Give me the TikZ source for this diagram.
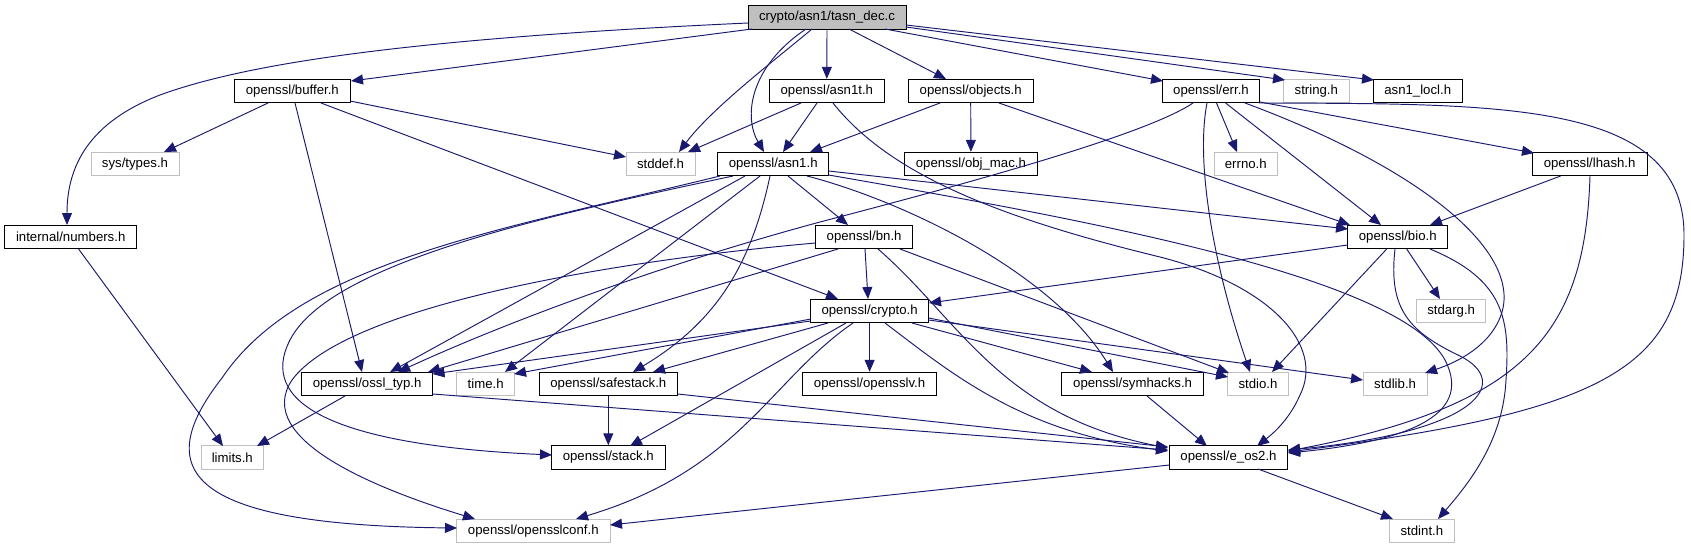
\documentclass[tikz,border=0pt]{standalone}
\usepackage{fontspec}
\setmainfont{Liberation Sans}
\usetikzlibrary{arrows.meta,calc}
\definecolor{navy}{RGB}{25,25,112}
\definecolor{gborder}{RGB}{191,191,191}
\definecolor{gfill}{RGB}{191,191,191}
\tikzset{
  box/.style={draw=black, line width=0.9pt, minimum height=23.5pt, inner sep=0pt, text=black, font=\fontsize{13.2}{15}\selectfont},
  gbox/.style={box, draw=gborder},
  e/.style={draw=navy, line width=0.95pt, -{Triangle[length=12pt,width=10pt]}},
}
\begin{document}
\begin{tikzpicture}[x=1pt,y=-1pt]
\useasboundingbox[fill=white] (0,0) rectangle (1691,549);
% nodes
\node[box,fill=gfill,minimum width=158pt] (tasn) at (827,17.5) {crypto/asn1/tasn\_dec.c};
\node[box,minimum width=132pt] (numbers) at (70.7,237) {internal/numbers.h};
\node[box,minimum width=115.4pt] (buffer) at (292.3,91) {openssl/buffer.h};
\node[gbox,minimum width=88pt] (systypes) at (135,164) {sys/types.h};
\node[box,minimum width=115pt] (asn1t) at (826.8,91) {openssl/asn1t.h};
\node[box,minimum width=125pt] (objects) at (970.7,91) {openssl/objects.h};
\node[box,minimum width=97.6pt] (err) at (1211,91) {openssl/err.h};
\node[gbox,minimum width=65.5pt] (string) at (1316.3,91) {string.h};
\node[box,minimum width=89.3pt] (asn1locl) at (1417.7,91) {asn1\_locl.h};
\node[gbox,minimum width=69pt] (stddef) at (660.5,164) {stddef.h};
\node[box,minimum width=110.7pt] (asn1) at (773.2,164) {openssl/asn1.h};
\node[box,minimum width=132.5pt] (objmac) at (970.9,164) {openssl/obj\_mac.h};
\node[gbox,minimum width=63.7pt] (errno) at (1245.8,164) {errno.h};
\node[box,minimum width=114.8pt] (lhash) at (1589.6,164) {openssl/lhash.h};
\node[box,minimum width=97.5pt] (bn) at (864.1,237) {openssl/bn.h};
\node[box,minimum width=100pt] (bio) at (1397.7,237) {openssl/bio.h};
\node[box,minimum width=118pt] (crypto) at (869.6,311) {openssl/crypto.h};
\node[gbox,minimum width=68.8pt] (stdarg) at (1451.2,311) {stdarg.h};
\node[box,minimum width=130.7pt] (ossltyp) at (367.1,384) {openssl/ossl\_typ.h};
\node[gbox,minimum width=58pt] (time) at (485.7,384) {time.h};
\node[box,minimum width=138.7pt] (safestack) at (608.3,384) {openssl/safestack.h};
\node[box,minimum width=133.5pt] (opensslv) at (869.6,384) {openssl/opensslv.h};
\node[box,minimum width=141.6pt] (symhacks) at (1132.6,384) {openssl/symhacks.h};
\node[gbox,minimum width=60.4pt] (stdio) at (1258,384) {stdio.h};
\node[gbox,minimum width=63.7pt] (stdlib) at (1395.1,384) {stdlib.h};
\node[gbox,minimum width=62.6pt] (limits) at (232.3,457.5) {limits.h};
\node[box,minimum width=113.3pt] (stack) at (608.3,457.5) {openssl/stack.h};
\node[box,minimum width=118pt] (eos2) at (1228.5,457.5) {openssl/e\_os2.h};
\node[gbox,minimum width=153.3pt] (conf) at (533.3,531) {openssl/opensslconf.h};
\node[gbox,minimum width=64.1pt] (stdint) at (1421.9,531) {stdint.h};

% tasn_dec.c
\draw[e] ($(tasn)+(-79,5.5)$) .. controls (420,38) and (250,62) .. (160,95) .. controls (90,122) and (67,165) .. ($(numbers)+(-3.7,-12)$);
\draw[e] ($(tasn)+(-75,11.5)$) -- ($(buffer)+(58.7,-10)$);
\draw[e] ($(tasn)+(-15,11.5)$) .. controls (775,60) and (712,108) .. ($(stddef)+(18.5,-12)$);
\draw[e] ($(tasn)+(-21,11.5)$) .. controls (748,68) and (744,118) .. ($(asn1)+(-9.2,-12)$);
\draw[e] (tasn.south) -- (asn1t.north);
\draw[e] ($(tasn)+(22,11.5)$) -- ($(objects)+(-24.7,-12)$);
\draw[e] ($(tasn)+(58,11.5)$) -- ($(err)+(-48,-10)$);
\draw[e] ($(tasn)+(79,9.5)$) -- ($(string)+(-31.3,-11)$);
\draw[e] ($(tasn)+(79,7.5)$) -- ($(asn1locl)+(-43.7,-11)$);

% buffer
\draw[e] ($(buffer)+(-24.3,12)$) -- ($(systypes)+(29,-12)$);
\draw[e] ($(buffer)+(2.7,12)$) -- ($(ossltyp)+(-5.1,-12)$);
\draw[e] ($(buffer)+(28.7,12)$) -- ($(crypto)+(-31.6,-12)$);
\draw[e] ($(buffer)+(57.7,10)$) -- ($(stddef)+(-34.5,-7)$);

% numbers
\draw[e] ($(numbers)+(7.9,12)$) -- ($(limits)+(-9.3,-11.5)$);

% asn1t
\draw[e] ($(asn1t)+(-25.8,12)$) -- ($(stddef)+(27.5,-12)$);
\draw[e] ($(asn1t)+(-9.8,12)$) -- ($(asn1)+(9.8,-12)$);
\draw[e] ($(asn1t)+(6.2,12)$) .. controls (890,175) and (1000,218) .. (1160,257) .. controls (1270,285) and (1325,345) .. (1300,395) .. controls (1290,418) and (1275,432) .. ($(eos2)+(28.5,-11.5)$);

% objects
\draw[e] ($(objects)+(-30.7,12)$) -- ($(asn1)+(36.8,-12)$);
\draw[e] (objects.south) -- (objmac.north);
\draw[e] ($(objects)+(28.3,12)$) -- ($(bio)+(-47.7,-12)$);

% err
\draw[e] ($(err)+(-18,12)$) .. controls (1150,132) and (1000,175) .. (820,222) .. controls (650,268) and (500,325) .. ($(ossltyp)+(31,-12)$);
\draw[e] ($(err)+(-4,12)$) .. controls (1195,165) and (1215,270) .. ($(stdio)+(-8,-12)$);
\draw[e] ($(err)+(5.5,12)$) -- ($(errno)+(-8.8,-12)$);
\draw[e] ($(err)+(14.6,12)$) -- ($(bio)+(-16.7,-12)$);
\draw[e] ($(err)+(34,12)$) .. controls (1420,168) and (1520,250) .. (1502,312) .. controls (1492,345) and (1458,362) .. ($(stdlib)+(29.9,-11)$);
\draw[e] ($(err)+(49,11)$) -- ($(lhash)+(-55.6,-11)$);
\draw[e] ($(err)+(48,12)$) .. controls (1500,104) and (1684,100) .. (1684,235) .. controls (1684,370) and (1600,412) .. ($(eos2)+(59.5,-5.5)$);

% lhash
\draw[e] ($(lhash)+(-29,12)$) -- ($(bio)+(32.3,-12)$);
\draw[e] ($(lhash)+(0.4,12)$) .. controls (1585,330) and (1530,405) .. ($(eos2)+(59.5,-6.5)$);

% bio
\draw[e] ($(bio)+(-50,8)$) -- ($(crypto)+(59.4,-8)$);
\draw[e] ($(bio)+(-11,12)$) -- ($(stdio)+(14,-12)$);
\draw[e] ($(bio)+(9,12)$) -- ($(stdarg)+(-11.2,-12)$);
\draw[e] ($(bio)+(-2.7,12)$) .. controls (1388,310) and (1410,332) .. (1460,356) .. controls (1512,382) and (1480,432) .. ($(eos2)+(59.5,-7.5)$);
\draw[e] ($(bio)+(32.3,12)$) .. controls (1505,280) and (1510,320) .. (1506,380) .. controls (1503,440) and (1470,482) .. ($(stdint)+(16.1,-12)$);

% asn1
\draw[e] ($(asn1)+(-53.2,12)$) .. controls (500,230) and (300,262) .. (222,378) .. controls (150,470) and (185,525) .. ($(conf)+(-76.3,-3)$);
\draw[e] ($(asn1)+(-40.2,12)$) .. controls (550,215) and (330,262) .. (290,340) .. controls (258,402) and (330,445) .. ($(stack)+(-56.3,-2.5)$);
\draw[e] ($(asn1)+(-28.2,12)$) -- ($(ossltyp)+(23,-12)$);
\draw[e] ($(asn1)+(-13.2,12)$) -- ($(time)+(19.3,-12)$);
\draw[e] ($(asn1)+(-3.2,12)$) .. controls (752,260) and (720,320) .. ($(safestack)+(24.7,-12)$);
\draw[e] ($(asn1)+(14.8,12)$) -- ($(bn)+(-16.1,-12)$);
\draw[e] ($(asn1)+(33.8,12)$) .. controls (900,200) and (1050,270) .. ($(symhacks)+(-19.6,-12)$);
\draw[e] ($(asn1)+(55.4,7)$) -- ($(bio)+(-49.7,-8)$);
\draw[e] ($(asn1)+(55.4,11)$) .. controls (1100,222) and (1400,278) .. (1445,360) .. controls (1475,418) and (1400,442) .. ($(eos2)+(59.5,-4.5)$);

% bn
\draw[e] ($(bn)+(-48.7,6)$) .. controls (600,262) and (345,308) .. (292,380) .. controls (252,440) and (380,490) .. ($(conf)+(-58.3,-12)$);
\draw[e] ($(bn)+(-26.1,12)$) -- ($(ossltyp)+(61,-12)$);
\draw[e] ($(bn)+(0.9,12)$) -- ($(crypto)+(-1.6,-12)$);
\draw[e] ($(bn)+(13.9,12)$) .. controls (960,320) and (1000,415) .. ($(eos2)+(-60.5,-9.5)$);
\draw[e] ($(bn)+(35.9,12)$) -- ($(stdio)+(-29,-11)$);

% crypto
\draw[e] ($(crypto)+(-58.9,10)$) -- ($(ossltyp)+(65.4,-10)$);
\draw[e] ($(crypto)+(-58.6,8)$) -- ($(time)+(28.3,-10)$);
\draw[e] ($(crypto)+(-41.6,12)$) -- ($(safestack)+(44.7,-12)$);
\draw[e] ($(crypto)+(-23.6,12)$) -- ($(stack)+(21.7,-11.5)$);
\draw[e] ($(crypto)+(-16.6,12)$) .. controls (770,380) and (740,470) .. ($(conf)+(42.7,-12)$);
\draw[e] (crypto.south) -- (opensslv.north);
\draw[e] ($(crypto)+(15.4,12)$) .. controls (950,372) and (1020,432) .. ($(eos2)+(-60.5,-6.5)$);
\draw[e] ($(crypto)+(42.4,12)$) -- ($(symhacks)+(-40.6,-12)$);
\draw[e] ($(crypto)+(59,7)$) -- ($(stdio)+(-30,-7)$);
\draw[e] ($(crypto)+(59,9)$) -- ($(stdlib)+(-32.1,-4)$);

% e_os2
\draw[e] ($(eos2)+(-59,7.5)$) -- ($(conf)+(76.7,-6)$);
\draw[e] ($(eos2)+(29.5,11.5)$) -- ($(stdint)+(-28.9,-12)$);

% ossl_typ
\draw[e] ($(ossltyp)+(-22.1,12)$) -- ($(limits)+(24.7,-11.5)$);
\draw[e] ($(ossltyp)+(65.4,10)$) -- ($(eos2)+(-60.5,-7.5)$);

% safestack
\draw[e] (safestack.south) -- (stack.north);
\draw[e] ($(safestack)+(69.4,10)$) -- ($(eos2)+(-60.5,-10.5)$);

% symhacks
\draw[e] ($(symhacks)+(14.4,12)$) -- ($(eos2)+(-21.5,-11.5)$);
\end{tikzpicture}
\end{document}
